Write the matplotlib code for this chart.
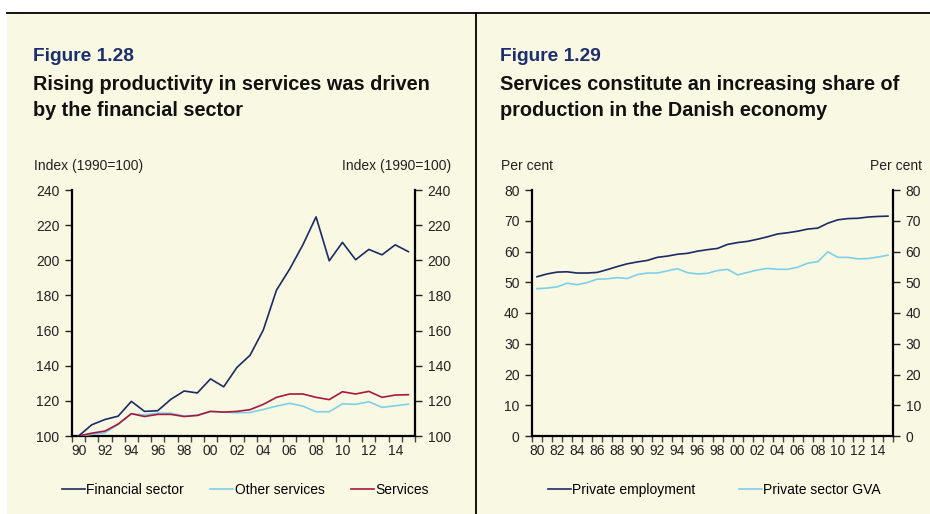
import matplotlib
matplotlib.use("Agg")
import matplotlib.pyplot as plt
from matplotlib.patches import Rectangle
from matplotlib.lines import Line2D
from matplotlib.ticker import FixedLocator, NullFormatter

plt.rcParams['font.family'] = ['Liberation Sans', 'DejaVu Sans']

# ---- data -------------------------------------------------------------
years_prod = list(range(1990, 2016))
financial_sector = [100, 106.4, 109.4, 111.3, 119.7, 114.0, 114.4, 120.9, 125.6, 124.5,
                    132.5, 128.0, 139.0, 146.0, 160.3, 183.0, 195.0, 208.8, 224.7, 199.7,
                    210.2, 200.3, 206.2, 203.1, 208.8, 204.9]
other_services = [100, 100.9, 101.8, 106.6, 112.7, 112.0, 113.0, 113.0, 111.4, 111.9,
                  114.0, 113.6, 113.2, 113.4, 115.1, 117.0, 118.6, 117.0, 113.8, 113.8,
                  118.3, 118.0, 119.5, 116.3, 117.2, 118.1]
services = [100, 101.6, 102.8, 106.8, 112.7, 111.1, 112.3, 112.3, 111.1, 111.7,
            114.0, 113.6, 114.0, 115.0, 118.0, 122.0, 123.9, 123.9, 122.0, 120.7,
            125.2, 123.9, 125.4, 122.0, 123.3, 123.5]

years_share = list(range(1980, 2016))
private_employment = [51.8, 52.7, 53.3, 53.4, 53.0, 53.0, 53.2, 54.1, 55.1, 56.0,
                      56.6, 57.1, 58.1, 58.5, 59.1, 59.4, 60.1, 60.6, 61.0, 62.3,
                      62.9, 63.3, 64.0, 64.8, 65.7, 66.1, 66.6, 67.3, 67.6, 69.2,
                      70.3, 70.7, 70.8, 71.2, 71.4, 71.5]
private_gva = [47.9, 48.1, 48.5, 49.7, 49.2, 49.9, 51.0, 51.1, 51.5, 51.2,
               52.5, 53.0, 53.0, 53.7, 54.4, 53.1, 52.7, 52.9, 53.8, 54.2,
               52.4, 53.2, 54.0, 54.5, 54.2, 54.2, 54.9, 56.2, 56.7, 59.9,
               58.1, 58.1, 57.6, 57.7, 58.2, 58.8]

prod_yticks = [100, 120, 140, 160, 180, 200, 220, 240]
share_yticks = [0, 10, 20, 30, 40, 50, 60, 70, 80]

# ---- styling ----------------------------------------------------------
CREAM = '#f9f8e3'
NAVY = '#1b2b63'
LIGHTBLUE = '#7fcfea'
RED = '#a8173f'
TITLE_BLUE = '#1d2e6c'
W, H = 930, 514

fig = plt.figure(figsize=(W / 100, H / 100), dpi=100, facecolor='white')

def fx(px):
    return px / W

def fy(py):
    return 1 - py / H

# background panel, top rule and divider
fig.patches.append(Rectangle((fx(7), 0), 1 - fx(7), fy(14), transform=fig.transFigure,
                             facecolor=CREAM, edgecolor='none', zorder=-10))
fig.add_artist(Line2D([fx(7), 1], [fy(13), fy(13)], color='black', lw=1.3))
fig.add_artist(Line2D([fx(476), fx(476)], [0, fy(13)], color='black', lw=1.3))


def setup_axis(ax, years, yticks, ylim):
    n = len(years)
    ax.set_facecolor('none')
    ax.set_xlim(-0.5, n - 0.5)
    ax.set_ylim(*ylim)
    for s in ['left', 'right', 'bottom']:
        ax.spines[s].set_linewidth(1.6)
        ax.spines[s].set_color('black')
    ax.spines['top'].set_visible(False)
    ax.set_yticks(yticks)
    ax.tick_params(axis='y', which='major', left=True, right=True, labelleft=True,
                   labelright=True, direction='out', length=5, width=1, pad=4,
                   labelsize=10, colors='#222222')
    # year labels every second category, tick marks at category boundaries
    lab_idx = list(range(0, n, 2))
    ax.set_xticks(lab_idx)
    ax.set_xticklabels([f"{years[i] % 100:02d}" for i in lab_idx])
    ax.tick_params(axis='x', which='major', length=0, pad=6, labelsize=10,
                   colors='#222222')
    ax.xaxis.set_minor_locator(FixedLocator([i - 0.5 for i in range(n + 1)]))
    ax.xaxis.set_minor_formatter(NullFormatter())
    ax.tick_params(axis='x', which='minor', direction='out', length=4, width=1,
                   color='#444444')


# ---- left panel ---------------------------------------------------------
ax1 = fig.add_axes([fx(72), fy(436), fx(415 - 72), (436 - 190) / H])
x1 = range(len(years_prod))
ax1.plot(x1, financial_sector, color=NAVY, lw=1.2, label='Financial sector', zorder=4)
ax1.plot(x1, other_services, color=LIGHTBLUE, lw=1.2, label='Other services', zorder=3)
ax1.plot(x1, services, color=RED, lw=1.2, label='Services', zorder=3)
setup_axis(ax1, years_prod, prod_yticks, (100, 240))

fig.text(fx(33), fy(56), 'Figure 1.28', color=TITLE_BLUE, fontsize=13.8,
         fontweight='bold', va='center', ha='left')
fig.text(fx(33), fy(84), 'Rising productivity in services was driven', color='#111111',
         fontsize=14.3, fontweight='bold', va='center', ha='left')
fig.text(fx(33), fy(111), 'by the financial sector', color='#111111',
         fontsize=14.3, fontweight='bold', va='center', ha='left')
fig.text(fx(34), fy(166), 'Index (1990=100)', fontsize=10, color='#222222',
         va='center', ha='left')
fig.text(fx(451), fy(166), 'Index (1990=100)', fontsize=10, color='#222222',
         va='center', ha='right')

h1, l1 = ax1.get_legend_handles_labels()
fig.legend(h1, l1, loc='center left', bbox_to_anchor=(fx(62), fy(490)), ncol=3,
           frameon=False, fontsize=10, handlelength=1.65, handletextpad=0.1,
           columnspacing=1.9, borderpad=0, borderaxespad=0)

# ---- right panel --------------------------------------------------------
ax2 = fig.add_axes([fx(532), fy(436), fx(893 - 532), (436 - 190) / H])
x2 = range(len(years_share))
ax2.plot(x2, private_employment, color=NAVY, lw=1.2, label='Private employment', zorder=4)
ax2.plot(x2, private_gva, color=LIGHTBLUE, lw=1.2, label='Private sector GVA', zorder=3)
setup_axis(ax2, years_share, share_yticks, (0, 80))

fig.text(fx(500), fy(56), 'Figure 1.29', color=TITLE_BLUE, fontsize=13.8,
         fontweight='bold', va='center', ha='left')
fig.text(fx(500), fy(84), 'Services constitute an increasing share of', color='#111111',
         fontsize=14.3, fontweight='bold', va='center', ha='left')
fig.text(fx(500), fy(111), 'production in the Danish economy', color='#111111',
         fontsize=14.3, fontweight='bold', va='center', ha='left')
fig.text(fx(501), fy(166), 'Per cent', fontsize=10, color='#222222',
         va='center', ha='left')
fig.text(fx(922), fy(166), 'Per cent', fontsize=10, color='#222222',
         va='center', ha='right')

h2, l2 = ax2.get_legend_handles_labels()
fig.legend(h2, l2, loc='center left', bbox_to_anchor=(fx(548), fy(490)), ncol=2,
           frameon=False, fontsize=10, handlelength=1.65, handletextpad=0.1,
           columnspacing=3.1, borderpad=0, borderaxespad=0)

fig.savefig('out.png', dpi=100, facecolor='white')
